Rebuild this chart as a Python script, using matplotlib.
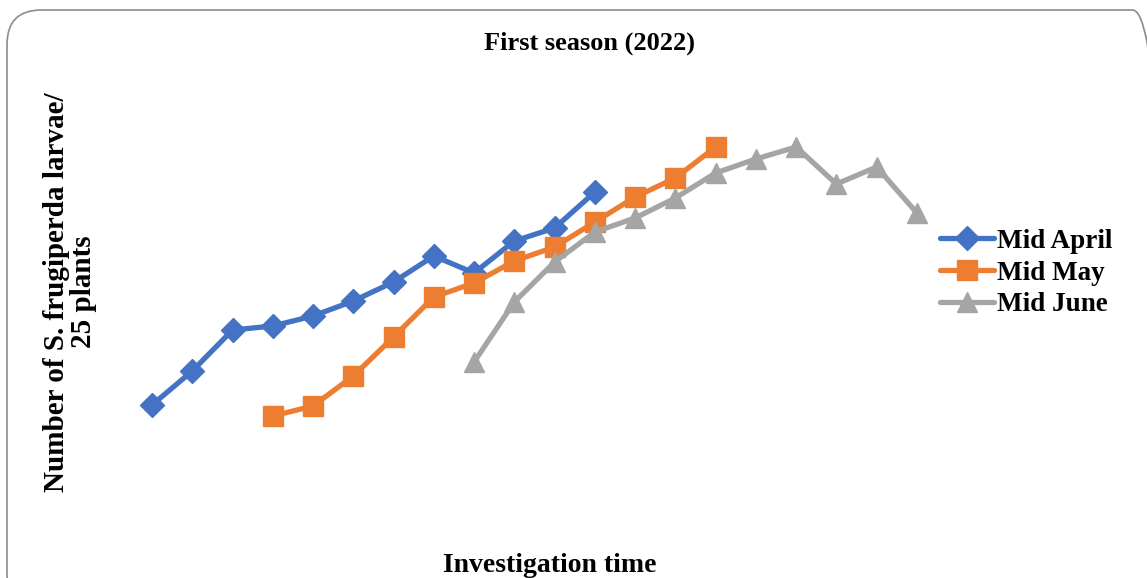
import matplotlib.pyplot as plt
from matplotlib.patches import FancyBboxPatch

# sampling positions (investigation times) and larvae counts
april_x = list(range(0, 12))
april_y = [4.5, 7.9, 12.0, 12.4, 13.4, 14.9, 16.8, 19.4, 17.7, 20.9, 22.2, 25.8]

may_x = list(range(3, 15))
may_y = [3.4, 4.4, 7.4, 11.3, 15.3, 16.7, 18.9, 20.3, 22.8, 25.3, 27.2, 30.3]

june_x = list(range(8, 20))
june_y = [8.8, 14.8, 18.8, 21.8, 23.2, 25.2, 27.7, 29.1, 30.3, 26.6, 28.3, 23.7]

plt.rcParams['font.family'] = ['Liberation Serif', 'DejaVu Serif']
plt.rcParams['font.weight'] = 'bold'

fig = plt.figure(figsize=(11.47, 5.78), dpi=100)

# rounded chart-area border (behind the axes)
border = FancyBboxPatch((7 / 1147, -30 / 578), 1160 / 1147, 598 / 578,
                        boxstyle="round,pad=0,rounding_size=0.03",
                        transform=fig.transFigure, facecolor='none',
                        edgecolor='#8c8c8c', linewidth=1.2,
                        mutation_aspect=1147 / 578, zorder=-1)
fig.patches.append(border)

ax = fig.add_axes([120 / 1147, 1 - 480 / 578, 840 / 1147, 380 / 578])
ax.set_facecolor('none')

ax.plot(april_x, april_y, color='#4472C4', lw=3.8, marker='D', ms=12,
        label='Mid April', solid_joinstyle='round', solid_capstyle='round')
ax.plot(may_x, may_y, color='#ED7D31', lw=3.8, marker='s', ms=15,
        label='Mid May', solid_joinstyle='round', solid_capstyle='round')
ax.plot(june_x, june_y, color='#A5A5A5', lw=3.8, marker='^', ms=15,
        label='Mid June', solid_joinstyle='round', solid_capstyle='round')

ax.set_xlim(-0.795, 20.07)
ax.set_ylim(-3, 35)
ax.set_xticks([])
ax.set_yticks([])
for s in ax.spines.values():
    s.set_visible(False)

fig.text(589 / 1147, 1 - 43 / 578, 'First season (2022)', ha='center', va='center',
         fontsize=19, fontweight='bold')
fig.text(550 / 1147, 1 - 565 / 578, 'Investigation time', ha='center', va='center',
         fontsize=20, fontweight='bold')
fig.text(70 / 1147, 1 - 292 / 578, 'Number of S. frugiperda larvae/\n25 plants',
         ha='center', va='center', rotation=90, fontsize=21, fontweight='bold',
         linespacing=1.0)

leg = ax.legend(loc='center left', bbox_to_anchor=(929 / 1147, 1 - 273 / 578),
                bbox_transform=fig.transFigure, frameon=False,
                prop={'size': 19.5, 'weight': 'bold'}, handlelength=2.0,
                handletextpad=0.1, labelspacing=0.25, borderaxespad=0)

fig.savefig('out.png', dpi=100)
